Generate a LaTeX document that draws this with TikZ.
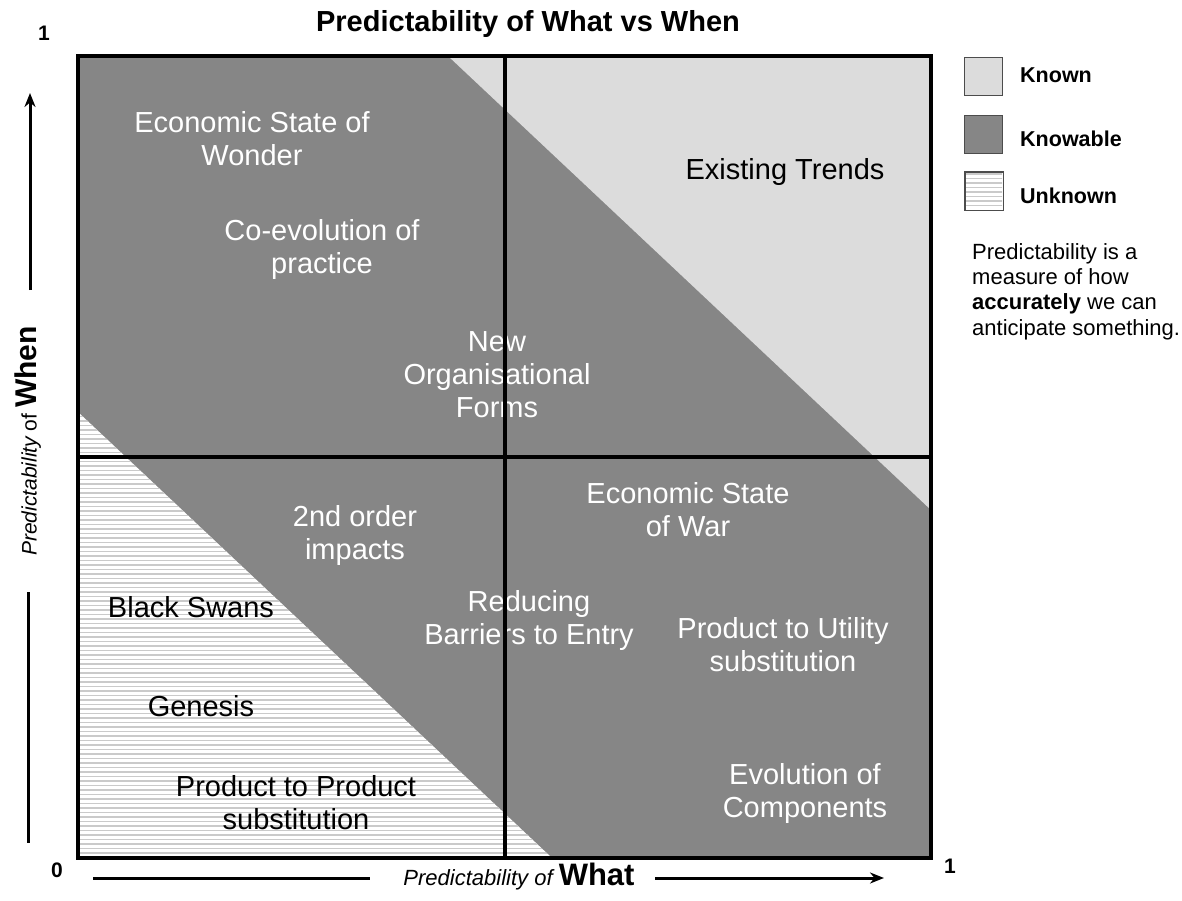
\documentclass[tikz,border=0pt]{standalone}
\usepackage{fontspec}
\setmainfont{Liberation Sans}
\usetikzlibrary{arrows.meta}
\definecolor{knowable}{HTML}{868686}
\definecolor{known}{HTML}{DCDCDC}
\definecolor{hatchc}{HTML}{CACACA}
\begin{document}
\begin{tikzpicture}[x=1pt,y=-1pt,
  lab/.style={font=\fontsize{29}{33}\selectfont, align=center, inner sep=0pt},
  wlab/.style={lab, text=white},
  blab/.style={lab, text=black},
  rule/.style={line width=4.5pt, black},
  legbox/.style={draw=black!70, line width=0.8pt, minimum size=38pt, inner sep=0pt},
  legtext/.style={font=\fontsize{21.5}{25}\selectfont\bfseries, anchor=west, inner sep=0pt},
  axisline/.style={line width=3pt, black},
  axishead/.style={-{Stealth[length=14pt,width=11pt]}},
  num/.style={font=\fontsize{21}{25}\selectfont\bfseries, inner sep=0pt}
]
\useasboundingbox (0,0) rectangle (1182,901);
% corners of the square
\coordinate (TL) at (78,56);
\coordinate (TR) at (931,56);
\coordinate (BR) at (931,858);
\coordinate (BL) at (78,858);
% regions
\fill[knowable] (TL) rectangle (BR);
\fill[known] (448,56) -- (TR) -- (931,510) -- cycle;
\fill[white] (78,412) -- (BL) -- (552,858) -- cycle;
\begin{scope}
  \clip (78,412) -- (BL) -- (552,858) -- cycle;
  \foreach \y in {412,416.5,...,862} \draw[hatchc, line width=1.7pt] (70,\y) -- (560,\y);
\end{scope}
% labels
\node[wlab] (wonder) at (252,138.5) {Economic State of\\Wonder};
\node[wlab] (coevo) at (322,250) {Co-evolution of\\practice};
\node[wlab] (neworg) at (497,374.5) {New\\Organisational\\Forms};
\node[blab] (trends) at (785,172) {Existing Trends};
\node[wlab] (war) at (688,509.5) {Economic State\\of War};
\node[wlab] (second) at (355,535) {2nd order\\impacts};
\node[blab] (swans) at (191,607) {Black Swans};
\node[wlab] (barriers) at (529,620.5) {Reducing\\Barriers to Entry};
\node[wlab] (utility) at (783,644.5) {Product to Utility\\substitution};
\node[blab] (genesis) at (201,706) {Genesis};
\node[blab] (p2p) at (296,802.5) {Product to Product\\substitution};
\node[wlab] (components) at (805,793.5) {Evolution of\\Components};
% dividers and border
\draw[rule] (505,56) -- (505,858);
\draw[rule] (78,457) -- (931,457);
\draw[rule, line join=miter] (TL) rectangle (BR);
% title
\node[font=\fontsize{29}{34}\selectfont\bfseries, inner sep=0pt] (title) at (528,24) {Predictability of What vs When};
% axis numbers
\node[num] (one-y) at (44,33) {1};
\node[num] (zero) at (57,870) {0};
\node[num] (one-x) at (950,866) {1};
% left axis
\coordinate (ya) at (30,290);
\coordinate (yb) at (30,93);
\coordinate (yc) at (28,592);
\coordinate (yd) at (28,843);
\draw[axisline, axishead] (ya) -- (yb);
\draw[axisline] (yc) -- (yd);
\node[rotate=90, inner sep=0pt] (ylab) at (28,441) {\fontsize{21}{25}\selectfont\itshape Predictability \upshape of \fontsize{30}{34}\selectfont\bfseries When};
% bottom axis
\coordinate (xa) at (93,878);
\coordinate (xb) at (370,878);
\coordinate (xc) at (655,878);
\coordinate (xd) at (884,878);
\draw[axisline] (xa) -- (xb);
\draw[axisline, axishead] (xc) -- (xd);
\node[inner sep=0pt] (xlab) at (519,877) {\fontsize{22}{26}\selectfont\itshape Predictability of \fontsize{31}{35}\selectfont\upshape\bfseries What};
% legend
\node[legbox, fill=known] (kbox) at (983.5,76.5) {};
\node[legbox, fill=knowable] (kabox) at (983.5,134) {};
\node[legbox, fill=white] (ubox) at (984,191) {};
\begin{scope}
  \clip (966,173) rectangle (1002,209);
  \foreach \y in {174,178.5,...,210} \draw[hatchc, line width=1.6pt] (960,\y) -- (1010,\y);
\end{scope}
\draw[draw=black!70, line width=0.8pt] (ubox.north west) rectangle (ubox.south east);
\node[legtext] (ktext) at (1020,75) {Known};
\node[legtext] (katext) at (1020,139) {Knowable};
\node[legtext] (utext) at (1020,196) {Unknown};
\node[anchor=north west, align=left, inner sep=0pt, font=\fontsize{22}{25.3}\selectfont] (note) at (972,243) {Predictability is a\\measure of how\\\textbf{accurately} we can\\anticipate something.};
\end{tikzpicture}
\end{document}
